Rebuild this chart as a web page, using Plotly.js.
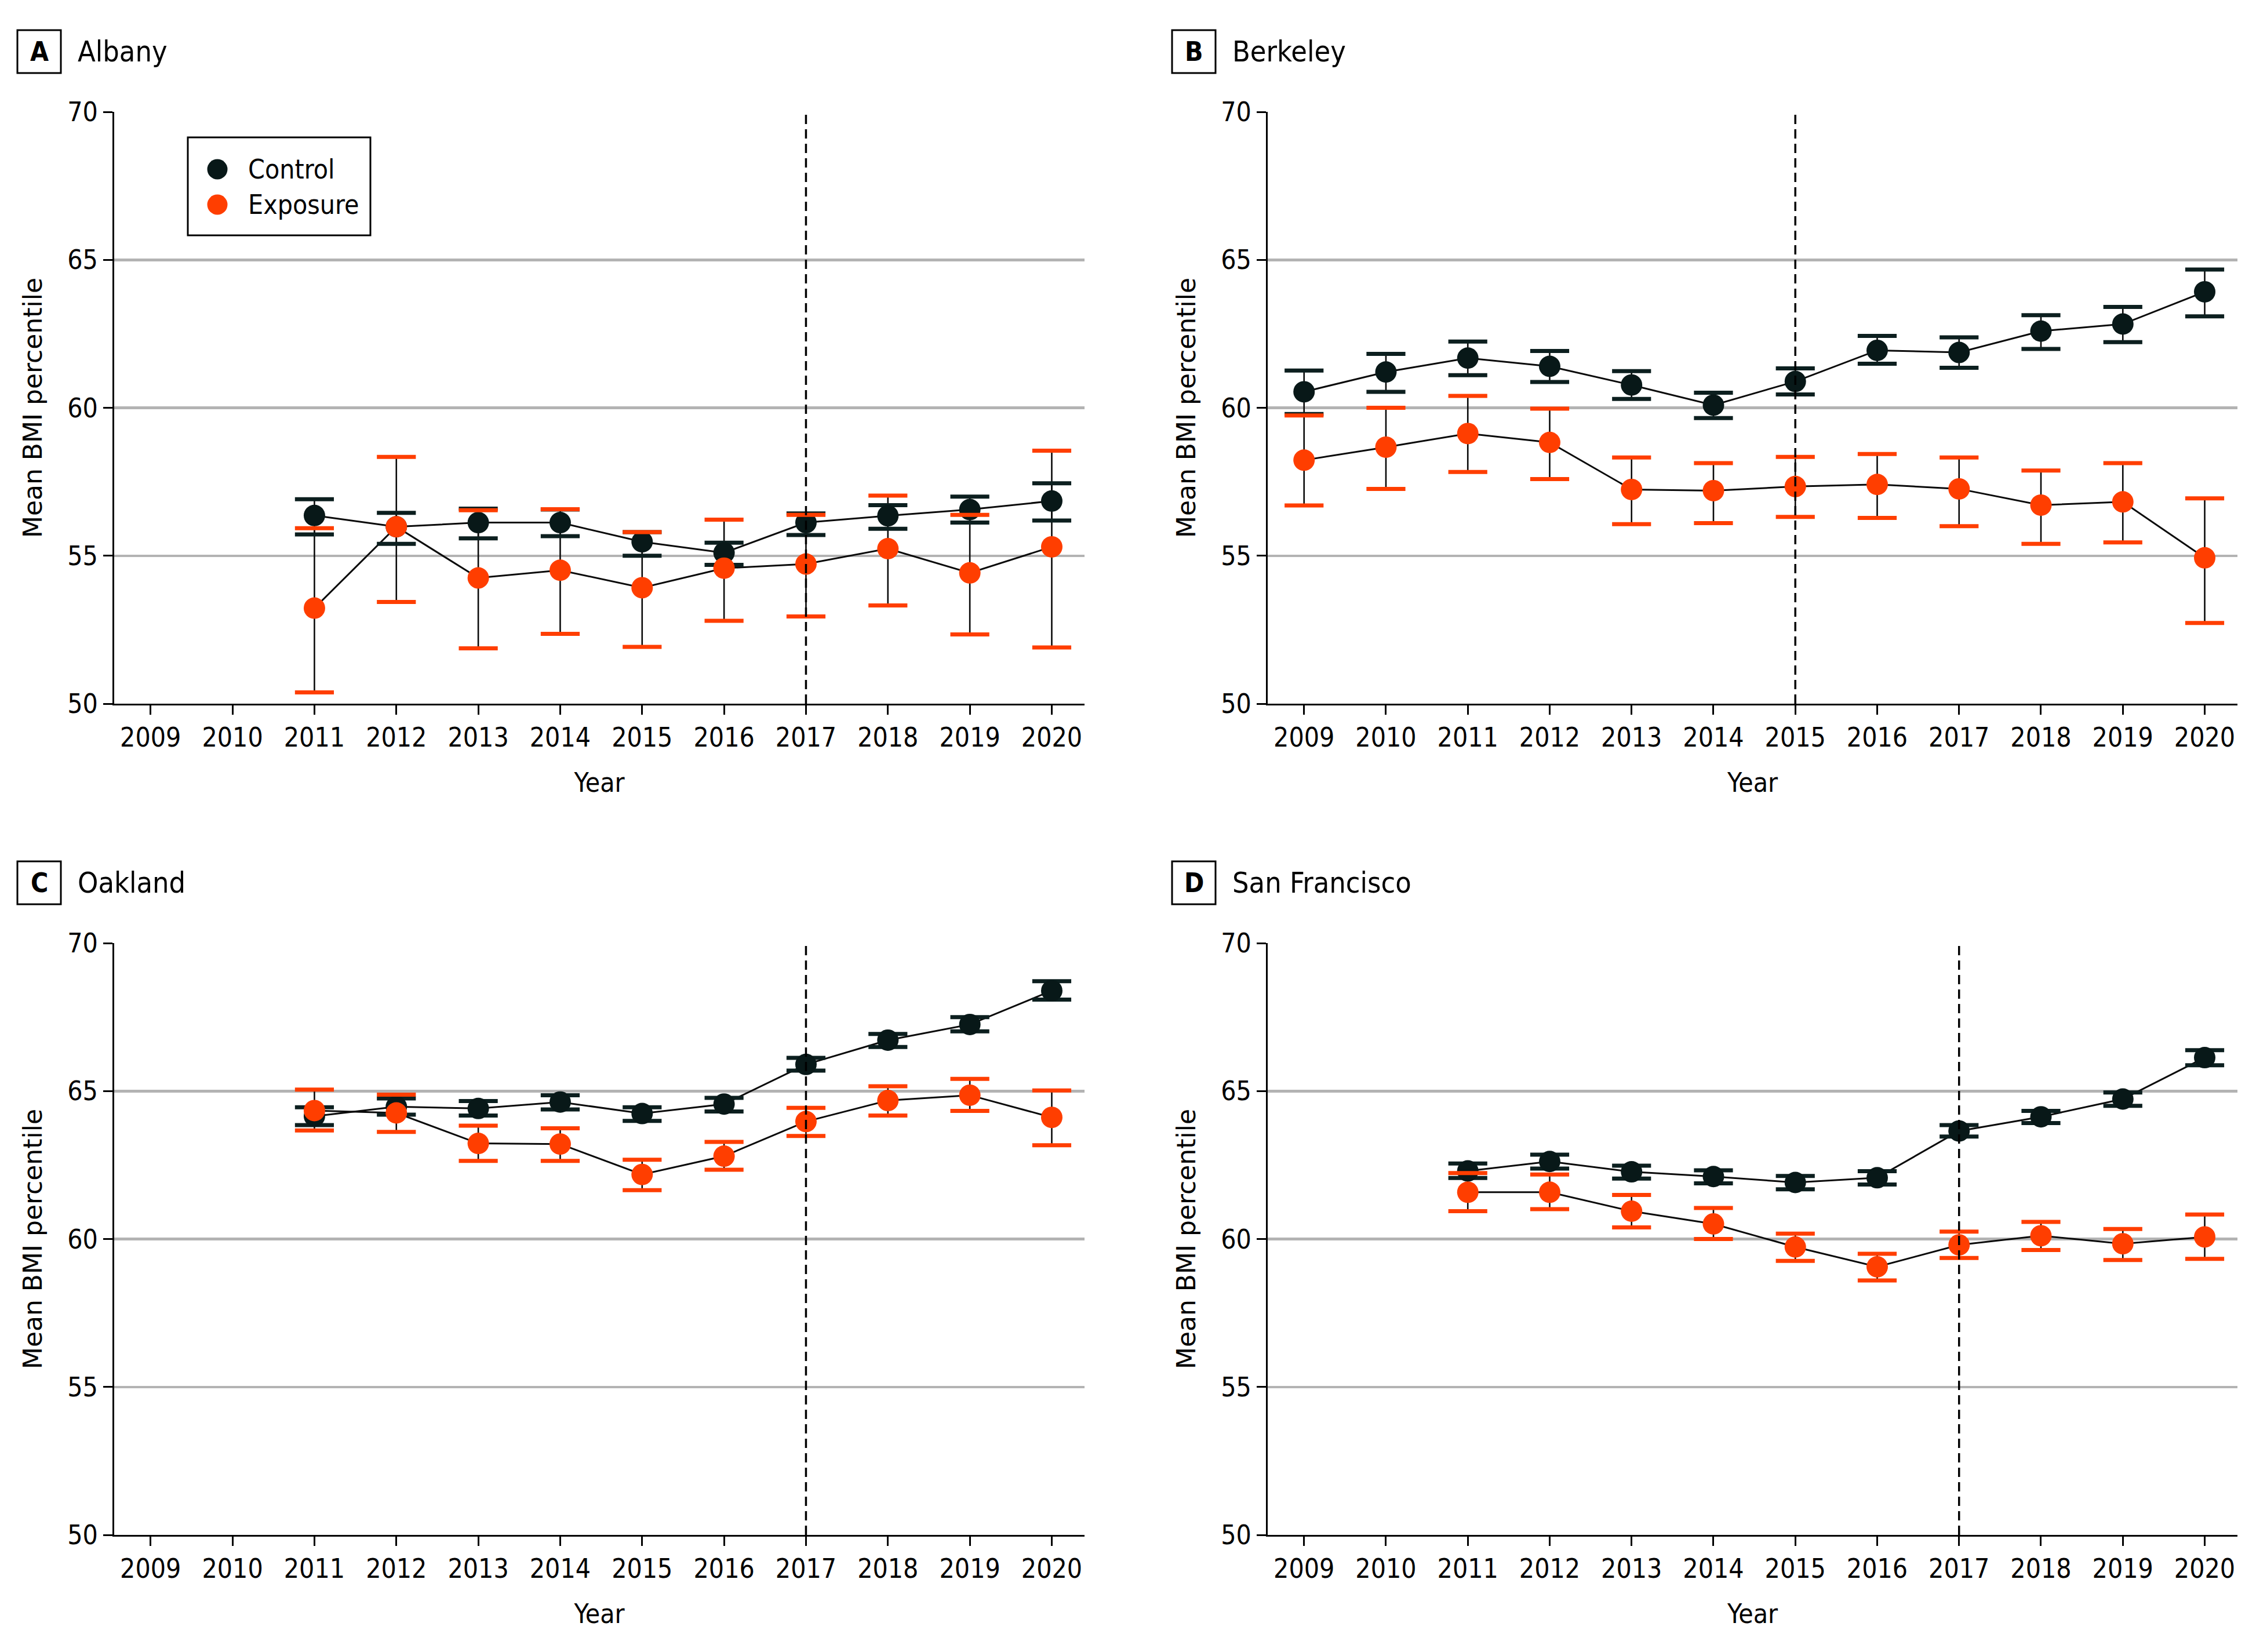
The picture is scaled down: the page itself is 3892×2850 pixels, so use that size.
<!DOCTYPE html>
<html>
<head>
<meta charset="utf-8">
<script src="https://cdn.plot.ly/plotly-3.0.1.min.js"></script>
<style>html,body{margin:0;padding:0;background:#fff;}#chart{width:3892px;height:2850px;}</style>
</head>
<body>
<div id="chart"></div>
<script>
// ---------- DATA ----------
const panelLetters = ["A", "B", "C", "D"];
const panelCities = ["Albany", "Berkeley", "Oakland", "San Francisco"];
const policyYears = [2017, 2015, 2017, 2017];
const yearTicks = [2009, 2010, 2011, 2012, 2013, 2014, 2015, 2016, 2017, 2018, 2019, 2020];
const bmiTicks = [50, 55, 60, 65, 70];
const seriesNames = ["Control", "Exposure"];

// Albany
const albanyYears = [2011, 2012, 2013, 2014, 2015, 2016, 2017, 2018, 2019, 2020];
const albanyControl = [56.36, 55.98, 56.12, 56.12, 55.47, 55.10, 56.12, 56.35, 56.56, 56.85];
const albanyControlHi = [56.91, 56.45, 56.59, 56.56, 55.80, 55.44, 56.43, 56.71, 57.00, 57.45];
const albanyControlLo = [55.72, 55.40, 55.59, 55.66, 55.00, 54.69, 55.70, 55.91, 56.12, 56.19];
const albanyExposure = [53.23, 55.98, 54.25, 54.51, 53.92, 54.58, 54.72, 55.24, 54.42, 55.30];
const albanyExposureHi = [55.93, 58.34, 56.54, 56.57, 55.80, 56.22, 56.38, 57.03, 56.38, 58.55];
const albanyExposureLo = [50.38, 53.44, 51.87, 52.36, 51.92, 52.80, 52.95, 53.32, 52.34, 51.90];

// Berkeley
const berkeleyYears = [2009, 2010, 2011, 2012, 2013, 2014, 2015, 2016, 2017, 2018, 2019, 2020];
const berkeleyControl = [60.54, 61.21, 61.68, 61.40, 60.77, 60.09, 60.89, 61.94, 61.87, 62.59, 62.83, 63.92];
const berkeleyControlHi = [61.26, 61.82, 62.24, 61.92, 61.24, 60.51, 61.33, 62.43, 62.38, 63.13, 63.41, 64.67];
const berkeleyControlLo = [59.79, 60.54, 61.10, 60.87, 60.30, 59.65, 60.45, 61.49, 61.35, 61.99, 62.22, 63.09];
const berkeleyExposure = [58.23, 58.67, 59.13, 58.83, 57.24, 57.20, 57.34, 57.41, 57.26, 56.71, 56.82, 54.93];
const berkeleyExposureHi = [59.74, 60.00, 60.40, 59.97, 58.32, 58.13, 58.34, 58.44, 58.32, 57.88, 58.13, 56.94];
const berkeleyExposureLo = [56.70, 57.26, 57.83, 57.59, 56.07, 56.10, 56.31, 56.28, 56.00, 55.40, 55.45, 52.73];

// Oakland
const oaklandYears = [2011, 2012, 2013, 2014, 2015, 2016, 2017, 2018, 2019, 2020];
const oaklandControl = [64.15, 64.47, 64.41, 64.63, 64.24, 64.56, 65.90, 66.72, 67.25, 68.39];
const oaklandControlHi = [64.45, 64.75, 64.66, 64.86, 64.45, 64.77, 66.12, 66.93, 67.50, 68.71];
const oaklandControlLo = [63.85, 64.20, 64.17, 64.38, 63.99, 64.31, 65.69, 66.49, 67.02, 68.09];
const oaklandExposure = [64.34, 64.26, 63.23, 63.21, 62.18, 62.80, 63.97, 64.68, 64.86, 64.11];
const oaklandExposureHi = [65.05, 64.88, 63.83, 63.74, 62.68, 63.28, 64.43, 65.16, 65.41, 65.02];
const oaklandExposureLo = [63.67, 63.62, 62.64, 62.64, 61.65, 62.34, 63.48, 64.17, 64.33, 63.17];

// San Francisco
const sfYears = [2011, 2012, 2013, 2014, 2015, 2016, 2017, 2018, 2019, 2020];
const sfControl = [62.30, 62.62, 62.27, 62.11, 61.91, 62.07, 63.65, 64.13, 64.73, 66.13];
const sfControlHi = [62.55, 62.85, 62.48, 62.32, 62.13, 62.29, 63.85, 64.33, 64.95, 66.38];
const sfControlLo = [62.06, 62.38, 62.04, 61.88, 61.68, 61.84, 63.46, 63.92, 64.50, 65.87];
const sfExposure = [61.58, 61.58, 60.94, 60.51, 59.73, 59.06, 59.80, 60.11, 59.84, 60.07];
const sfExposureHi = [62.23, 62.18, 61.49, 61.05, 60.18, 59.50, 60.25, 60.58, 60.34, 60.83];
const sfExposureLo = [60.94, 61.01, 60.39, 60.00, 59.26, 58.60, 59.36, 59.63, 59.29, 59.33];

// ---------- BUILD ----------
const W = 3892, H = 2850;
const px = x => x / W;
const py = y => 1 - y / H;

const panels = [
  {years: albanyYears, c: [albanyControl, albanyControlLo, albanyControlHi], e: [albanyExposure, albanyExposureLo, albanyExposureHi]},
  {years: berkeleyYears, c: [berkeleyControl, berkeleyControlLo, berkeleyControlHi], e: [berkeleyExposure, berkeleyExposureLo, berkeleyExposureHi]},
  {years: oaklandYears, c: [oaklandControl, oaklandControlLo, oaklandControlHi], e: [oaklandExposure, oaklandExposureLo, oaklandExposureHi]},
  {years: sfYears, c: [sfControl, sfControlLo, sfControlHi], e: [sfExposure, sfExposureLo, sfExposureHi]}
];

const COL_L = [197, 2187], COL_R = [1871, 3860];
const ROW_T = [193, 1627], ROW_B = [1214, 2648];
const ROW_OFF = [0, 1434];
const BOX_L = [30, 2022];

const ctrlColor = "#081818";
const ctrlCap = "#0c1f1f";
const expColor = "#ff3e00";
const lineColor = "#0a0a0a";
const tickFont = {family: "DejaVu Sans Condensed", size: 46, color: "#000"};

const traces = [];
const layout = {
  width: W, height: H,
  margin: {l: 0, r: 0, t: 0, b: 0},
  paper_bgcolor: "#fff", plot_bgcolor: "#fff",
  showlegend: false,
  shapes: [], annotations: []
};

panels.forEach((p, i) => {
  const col = i % 2, row = Math.floor(i / 2);
  const n = i + 1;
  const xa = n === 1 ? "x" : "x" + n, ya = n === 1 ? "y" : "y" + n;
  const xk = n === 1 ? "xaxis" : "xaxis" + n, yk = n === 1 ? "yaxis" : "yaxis" + n;

  layout[xk] = {
    domain: [px(COL_L[col]), px(COL_R[col])],
    anchor: ya,
    range: [2008.556, 2020.4],
    tickmode: "array", tickvals: yearTicks, ticktext: yearTicks.map(String),
    ticks: "outside", ticklen: 16, tickwidth: 3, tickcolor: "#000",
    showline: true, linewidth: 3, linecolor: "#000",
    showgrid: false, zeroline: false,
    tickfont: tickFont,
    title: {text: "Year", font: {family: "DejaVu Sans Condensed", size: 46, color: "#000"}, standoff: 36}
  };
  layout[yk] = {
    domain: [py(ROW_B[row]), py(ROW_T[row])],
    anchor: xa,
    range: [50, 70],
    tickmode: "array", tickvals: bmiTicks, ticktext: bmiTicks.map(String),
    ticks: "outside", ticklen: 16, tickwidth: 3, tickcolor: "#000",
    showline: true, linewidth: 3, linecolor: "#000",
    showgrid: true, gridcolor: "#b3b3b3", gridwidth: 4.5,
    zeroline: false,
    tickfont: tickFont,
    title: {text: "Mean BMI percentile", font: {family: "DejaVu Sans", size: 44, color: "#000"}, standoff: 30}
  };

  const series = [
    {d: p.c, color: ctrlColor, cap: ctrlCap, name: seriesNames[0]},
    {d: p.e, color: expColor, cap: expColor, name: seriesNames[1]}
  ];
  // connecting lines
  series.forEach(s => {
    traces.push({type: "scatter", mode: "lines", x: p.years, y: s.d[0], xaxis: xa, yaxis: ya,
      line: {color: lineColor, width: 3}, hoverinfo: "skip", showlegend: false});
  });
  // error stems (black)
  series.forEach(s => {
    traces.push({type: "scatter", mode: "markers", x: p.years, y: s.d[0], xaxis: xa, yaxis: ya,
      marker: {size: 1, opacity: 0},
      error_y: {type: "data", symmetric: false,
        array: s.d[2].map((v, k) => v - s.d[0][k]),
        arrayminus: s.d[0].map((v, k) => v - s.d[1][k]),
        color: lineColor, thickness: 2.6, width: 0},
      hoverinfo: "skip", showlegend: false});
  });
  // caps + markers
  series.forEach(s => {
    traces.push({type: "scatter", mode: "markers",
      x: p.years.concat(p.years), y: s.d[1].concat(s.d[2]), xaxis: xa, yaxis: ya,
      marker: {symbol: "line-ew-open", size: 48, color: s.cap, line: {color: s.cap, width: 7}},
      hoverinfo: "skip", showlegend: false});
    traces.push({type: "scatter", mode: "markers", name: s.name,
      x: p.years, y: s.d[0], xaxis: xa, yaxis: ya,
      marker: {size: 37, color: s.color, line: {width: 0}}, showlegend: false});
  });

  // intervention line
  layout.shapes.push({type: "line", xref: xa, yref: ya + " domain", x0: policyYears[i], x1: policyYears[i], y0: 0, y1: 1,
    line: {color: "#000", width: 3.5, dash: "16px,9px"}, layer: "above"});

  // panel label box
  const off = ROW_OFF[row];
  layout.shapes.push({type: "rect", xref: "paper", yref: "paper",
    x0: px(BOX_L[col]), x1: px(BOX_L[col] + 75), y0: py(52 + off), y1: py(126 + off),
    line: {color: "#000", width: 3}, fillcolor: "rgba(0,0,0,0)"});
  layout.annotations.push({xref: "paper", yref: "paper", x: px(BOX_L[col] + 37.5), y: py(89 + off),
    xanchor: "center", yanchor: "middle", showarrow: false,
    text: "<b>" + panelLetters[i] + "</b>", font: {family: "DejaVu Sans Condensed", size: 46, color: "#000"}});
  layout.annotations.push({xref: "paper", yref: "paper", x: px(BOX_L[col] + 102), y: py(89 + off),
    xanchor: "left", yanchor: "middle", showarrow: false,
    text: panelCities[i], font: {family: "DejaVu Sans Condensed", size: 50, color: "#000"}});
});

// legend (panel A)
layout.shapes.push({type: "rect", xref: "paper", yref: "paper", x0: px(324), x1: px(639), y0: py(237), y1: py(406),
  line: {color: "#000", width: 3}, fillcolor: "#fff", layer: "above"});
const legY = [292, 353];
const legCol = [ctrlColor, expColor];
seriesNames.forEach((nm, k) => {
  layout.shapes.push({type: "circle", xref: "paper", yref: "paper", xsizemode: "pixel", ysizemode: "pixel",
    xanchor: px(375), yanchor: py(legY[k]), x0: -17.5, x1: 17.5, y0: -17.5, y1: 17.5,
    fillcolor: legCol[k], line: {width: 0}, layer: "above"});
  layout.annotations.push({xref: "paper", yref: "paper", x: px(426), y: py(legY[k]),
    xanchor: "left", yanchor: "middle", showarrow: false, text: nm,
    font: {family: "DejaVu Sans Condensed", size: 46, color: "#000"}});
});

Plotly.newPlot("chart", traces, layout, {staticPlot: true, displayModeBar: false});
</script>
</body>
</html>
